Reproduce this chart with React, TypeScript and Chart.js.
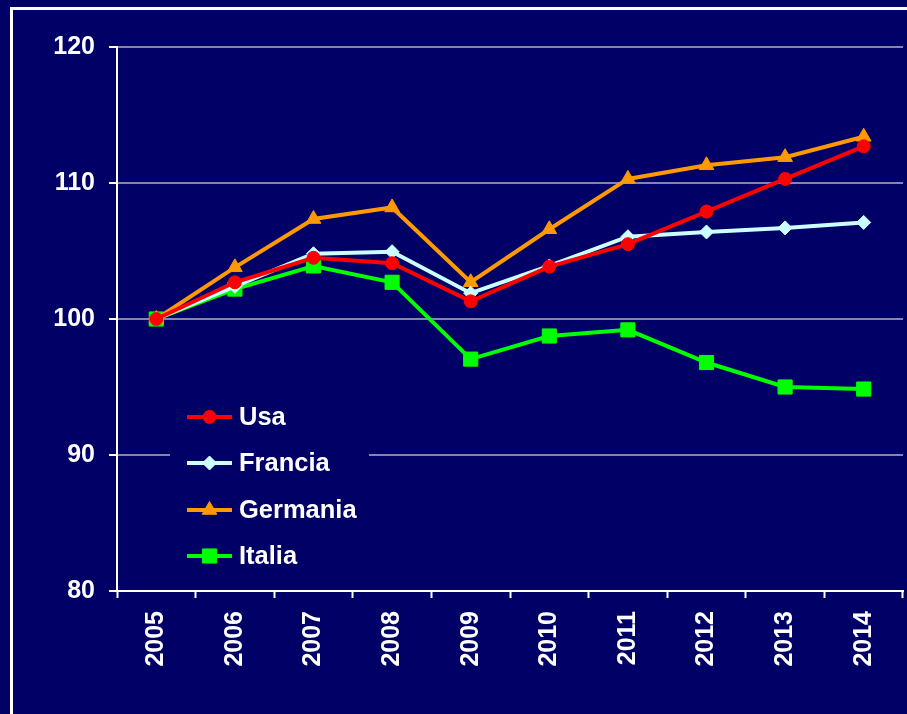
import React, { useEffect, useRef } from "react";
import { Chart, registerables } from "chart.js";

Chart.register(...registerables);

const years = ["2005", "2006", "2007", "2008", "2009", "2010", "2011", "2012", "2013", "2014"];
const usa = [100, 102.7, 104.5, 104.1, 101.3, 103.85, 105.5, 107.9, 110.3, 112.7];
const francia = [100, 102.4, 104.8, 104.95, 101.9, 103.9, 106.05, 106.4, 106.7, 107.1];
const germania = [100, 103.8, 107.35, 108.2, 102.7, 106.6, 110.3, 111.3, 111.9, 113.4];
const italia = [100, 102.2, 103.9, 102.7, 97.05, 98.75, 99.2, 96.8, 95.0, 94.85];
const seriesNames = ["Usa", "Francia", "Germania", "Italia"];
const yTicks = [80, 90, 100, 110, 120];

const BG = "#000066";
const FONT = "'Liberation Sans', Arial, sans-serif";

const styles = [
  { color: "#ff0000", point: "circle", radius: 6.5 },
  { color: "#ccffff", point: "rectRot", radius: 7 },
  { color: "#ff9900", point: "triangle", radius: 8.5 },
  { color: "#00ff00", point: "rect", radius: 10 },
];

function drawMarker(ctx: CanvasRenderingContext2D, style: string, x: number, y: number, r: number) {
  ctx.beginPath();
  if (style === "circle") {
    ctx.arc(x, y, r, 0, Math.PI * 2);
  } else if (style === "rect") {
    const s = Math.SQRT1_2 * r;
    ctx.rect(x - s, y - s, 2 * s, 2 * s);
  } else if (style === "rectRot") {
    ctx.moveTo(x - r, y);
    ctx.lineTo(x, y - r);
    ctx.lineTo(x + r, y);
    ctx.lineTo(x, y + r);
    ctx.closePath();
  } else if (style === "triangle") {
    const a = (2 * Math.PI) / 3;
    ctx.moveTo(x, y - r);
    ctx.lineTo(x + Math.sin(a) * r, y - Math.cos(a) * r);
    ctx.lineTo(x + Math.sin(2 * a) * r, y - Math.cos(2 * a) * r);
    ctx.closePath();
  }
  ctx.fill();
  ctx.stroke();
}

const backgroundPlugin = {
  id: "bgFrame",
  beforeDraw(chart: any) {
    const ctx = chart.ctx as CanvasRenderingContext2D;
    ctx.save();
    ctx.fillStyle = BG;
    ctx.fillRect(0, 0, chart.width, chart.height);
    ctx.fillStyle = "#ffffff";
    ctx.fillRect(10, 7, chart.width - 10, 3);
    ctx.fillRect(10, 7, 3, chart.height - 7);
    ctx.restore();
  },
};

const legendPlugin = {
  id: "insideLegend",
  afterDatasetsDraw(chart: any) {
    const ctx = chart.ctx as CanvasRenderingContext2D;
    ctx.save();
    ctx.fillStyle = BG;
    ctx.fillRect(170, 395, 199, 183);
    const rowY = [417, 463, 510, 556];
    seriesNames.forEach((name, i) => {
      const st = styles[i];
      const y = rowY[i];
      ctx.strokeStyle = st.color;
      ctx.lineWidth = 4;
      ctx.beginPath();
      ctx.moveTo(187, y);
      ctx.lineTo(232, y);
      ctx.stroke();
      ctx.fillStyle = st.color;
      ctx.lineWidth = 1;
      drawMarker(ctx, st.point, 209.5, y, st.radius);
      ctx.fillStyle = "#ffffff";
      ctx.font = `bold 25.5px ${FONT}`;
      ctx.textAlign = "left";
      ctx.textBaseline = "middle";
      ctx.fillText(name, 239, y + 1);
    });
    ctx.restore();
  },
};

export default function App() {
  const ref = useRef<HTMLCanvasElement>(null);

  useEffect(() => {
    if (!ref.current) return;
    const allData = [usa, francia, germania, italia];
    const chart = new Chart(ref.current, {
      type: "line",
      data: {
        labels: years,
        datasets: seriesNames.map((name, i) => ({
          label: name,
          data: allData[i],
          borderColor: styles[i].color,
          backgroundColor: styles[i].color,
          pointBackgroundColor: styles[i].color,
          pointBorderColor: styles[i].color,
          borderWidth: 4,
          pointStyle: styles[i].point as any,
          pointRadius: styles[i].radius,
          pointBorderWidth: 1,
          tension: 0,
          fill: false,
        })),
      },
      options: {
        responsive: false,
        animation: false,
        devicePixelRatio: 1,
        layout: { autoPadding: false, padding: { left: 0, top: 47, right: 4, bottom: 0 } },
        plugins: {
          legend: { display: false },
          tooltip: { enabled: false },
        },
        scales: {
          x: {
            type: "category",
            offset: true,
            grid: {
              offset: true,
              drawOnChartArea: false,
              drawTicks: true,
              tickLength: 7,
              tickColor: "#ffffff",
              tickWidth: 2,
              color: "#ffffff",
            },
            border: { display: true, color: "#ffffff", width: 2 },
            ticks: {
              color: "#ffffff",
              font: { family: FONT, size: 25, weight: "bold" },
              minRotation: 90,
              maxRotation: 90,
              padding: 13,
              autoSkip: false,
            },
            afterFit(scale: any) {
              scale.height = 123;
              scale.paddingLeft = 0;
              scale.paddingRight = 0;
            },
          },
          y: {
            min: yTicks[0],
            max: yTicks[yTicks.length - 1],
            afterBuildTicks(scale: any) {
              scale.ticks = yTicks.map((v) => ({ value: v }));
            },
            grid: {
              color: "#8484ae",
              lineWidth: 2,
              drawTicks: true,
              tickLength: 8,
              tickColor: "#ffffff",
              tickWidth: 2,
            },
            border: { display: true, color: "#ffffff", width: 2 },
            ticks: {
              color: "#ffffff",
              font: { family: FONT, size: 25, weight: "bold" },
              padding: 14,
            },
            afterFit(scale: any) {
              scale.width = 117;
            },
          },
        },
      },
      plugins: [backgroundPlugin, legendPlugin],
    });
    return () => chart.destroy();
  }, []);

  return (
    <div style={{ position: "absolute", left: 0, top: 0, width: 907, height: 714, background: BG }}>
      <canvas ref={ref} width={907} height={714} style={{ display: "block", width: 907, height: 714 }} />
    </div>
  );
}
